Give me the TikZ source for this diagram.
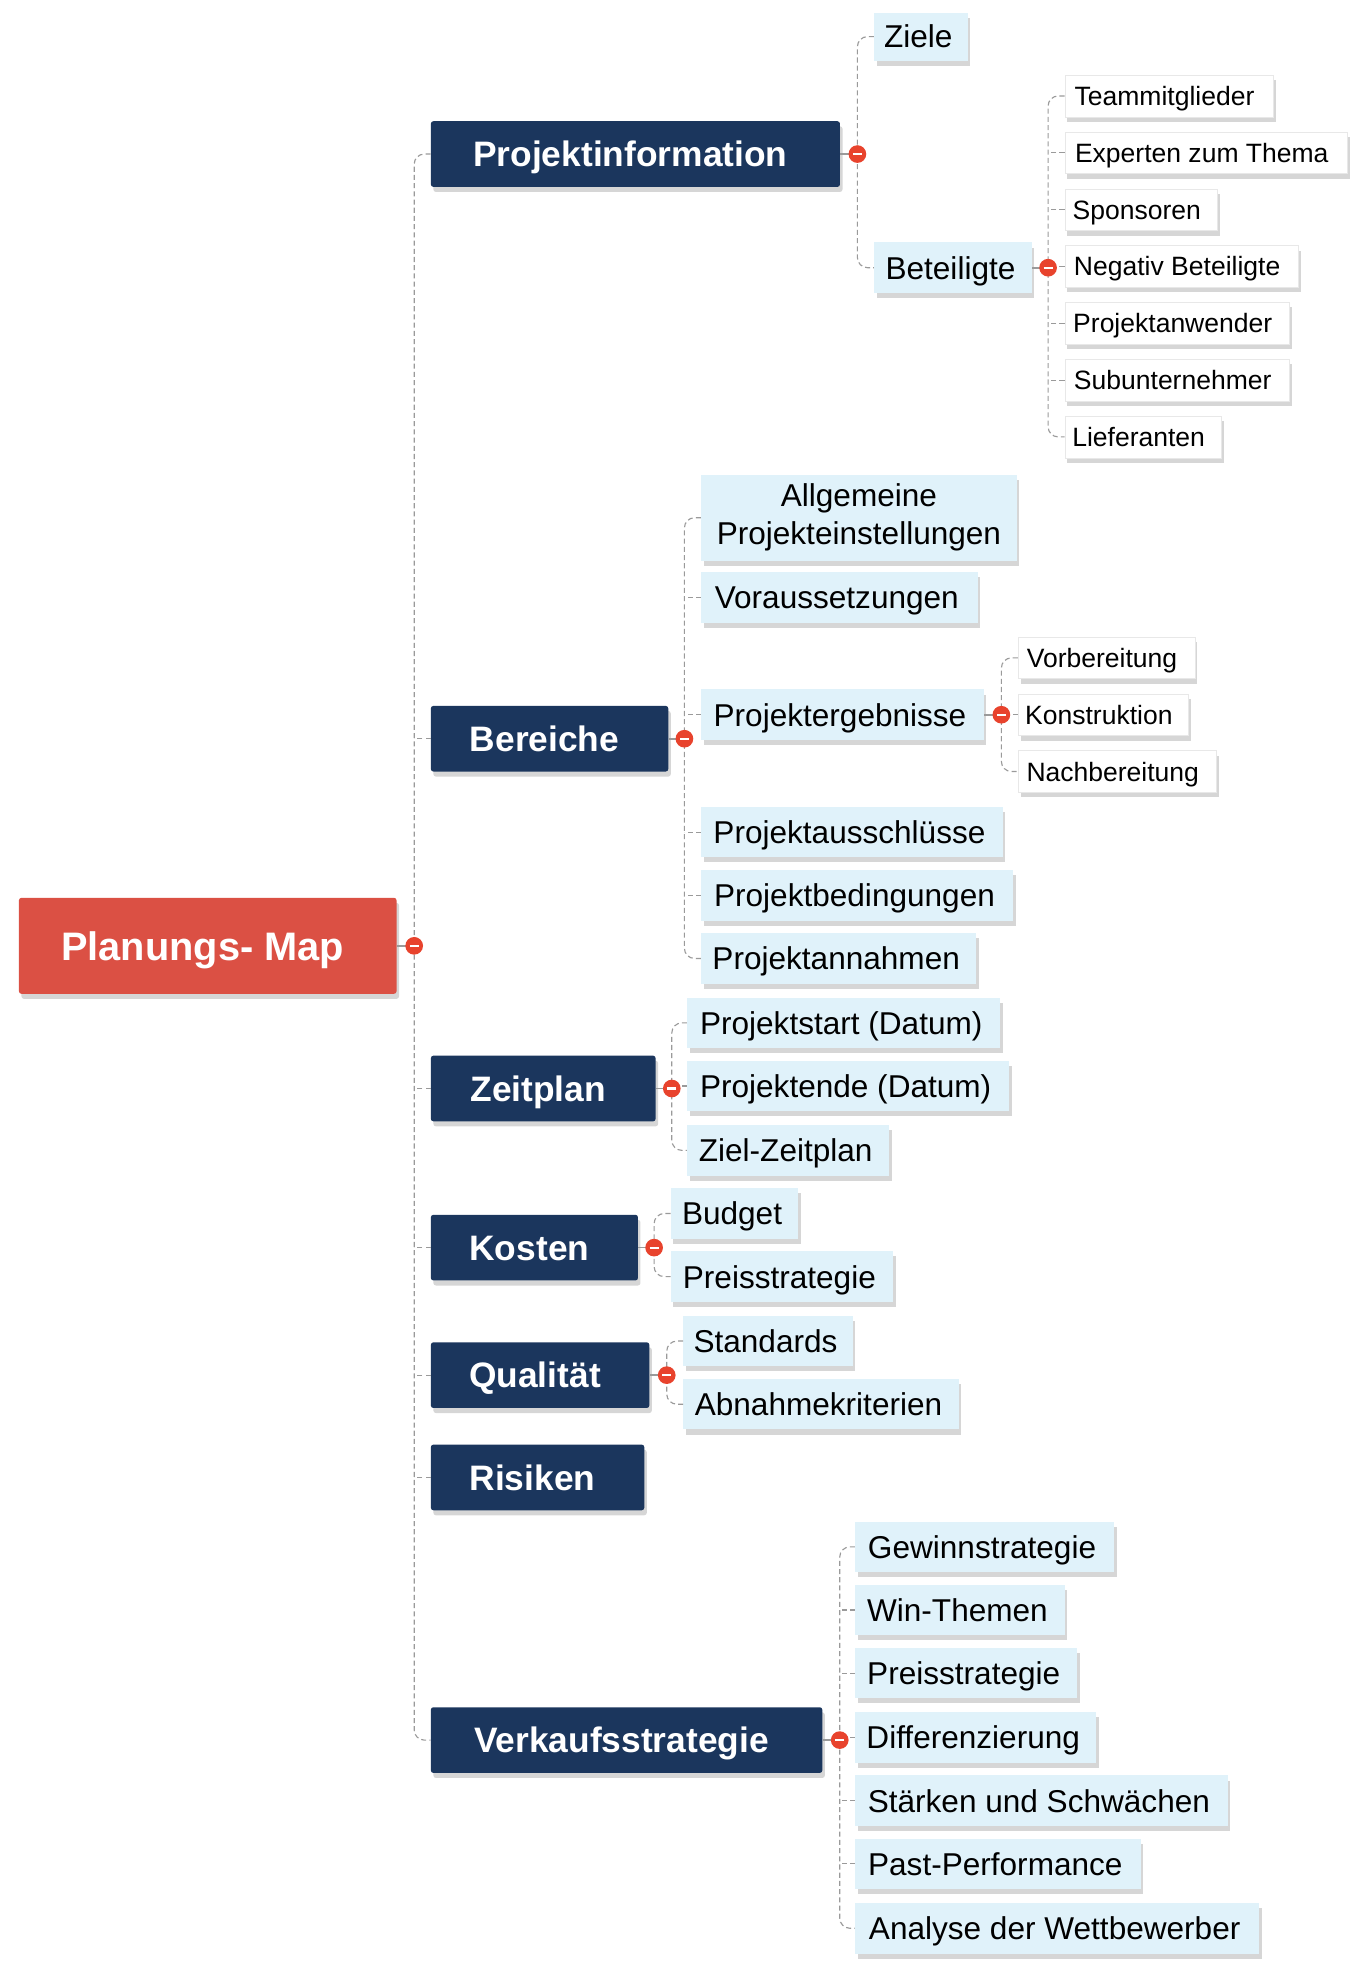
\documentclass[tikz,border=0pt]{standalone}
\usepackage{fontspec}
\setmainfont{Liberation Sans}
\usetikzlibrary{shadows,calc}
\definecolor{navy}{HTML}{1B365D}
\definecolor{rootred}{HTML}{DB5044}
\definecolor{lblue}{HTML}{E0F2FA}
\definecolor{dotred}{HTML}{E8432D}
\definecolor{conngray}{HTML}{9A9A9A}
\begin{document}
\begin{tikzpicture}[x=1pt,y=-1pt,
  shd/.style={drop shadow={shadow xshift=2pt, shadow yshift=-4pt, opacity=0.16, fill=black}},
  rootn/.style={fill=rootred, text=white, font=\fontsize{31.5}{36}\selectfont\bfseries, rounded corners=2pt, minimum height=76, inner sep=0pt, text height=22.6, text depth=0, shd, execute at end node={\hspace*{8pt}}},
  lone/.style={fill=navy, text=white, font=\fontsize{28}{32}\selectfont\bfseries, rounded corners=2pt, minimum height=52, inner sep=0pt, text height=20, text depth=0, shd, anchor=west, execute at end node={\hspace*{8pt}}},
  ltwobase/.style={fill=lblue, text=black, font=\fontsize{25}{30}\selectfont, minimum height=40, inner sep=0pt, shd, anchor=west},
  ltwo/.style={ltwobase, text height=18, text depth=0, execute at end node={\hspace*{4pt}}},
  lthree/.style={fill=white, draw=black!9, font=\fontsize{21}{25}\selectfont, minimum height=33, inner sep=0pt, text height=15, text depth=0, shd, anchor=west, execute at end node={\hspace*{7pt}}},
  conn/.style={draw=conngray, line width=0.9pt, dash pattern=on 4pt off 2.5pt},
  link/.style={draw=conngray, line width=1.3pt},
  dotn/.style={circle, fill=dotred, minimum size=14, inner sep=0pt,
    path picture={\draw[white, line width=1.6pt] ($(path picture bounding box.center)+(-3.5,0)$) -- ($(path picture bounding box.center)+(3.5,0)$);}},
]
\useasboundingbox (0,0) rectangle (1082,1568);

% dot positions
\coordinate (rd) at (328,749);
\coordinate (pid) at (679,122);
\coordinate (bed) at (830,212);
\coordinate (brd) at (542,585);
\coordinate (ped) at (793,566);
\coordinate (zd) at (532,862);
\coordinate (kd) at (518,988);
\coordinate (qd) at (528,1089);
\coordinate (vd) at (665,1378);

% root
\node[rootn, minimum width=299] (root) at (164.5,749) {Planungs- Map};

% level 1
\node[lone, minimum width=324] (pi) at (341,122) {Projektinformation};
\node[lone, minimum width=188] (br) at (341,585) {Bereiche};
\node[lone, minimum width=178] (zp) at (341,862) {Zeitplan};
\node[lone, minimum width=164] (ko) at (341,988) {Kosten};
\node[lone, minimum width=173] (qu) at (341,1089) {Qualität};
\node[lone, minimum width=169] (ri) at (341,1170) {Risiken};
\node[lone, minimum width=310] (vk) at (341,1378) {Verkaufsstrategie};

% Projektinformation
\node[ltwo, minimum width=74, minimum height=38] (zi) at (692,29) {Ziele};
\node[ltwo, minimum width=125] (bt) at (692,212) {Beteiligte};

% Beteiligte
\node[lthree, minimum width=165] (b1) at (843,76) {Teammitglieder};
\node[lthree, minimum width=224] (b2) at (843,121) {Experten zum Thema};
\node[lthree, minimum width=121] (b3) at (843,166) {Sponsoren};
\node[lthree, minimum width=185] (b4) at (843,211) {Negativ Beteiligte};
\node[lthree, minimum width=178] (b5) at (843,256) {Projektanwender};
\node[lthree, minimum width=178] (b6) at (843,301) {Subunternehmer};
\node[lthree, minimum width=124] (b7) at (843,346) {Lieferanten};

% Bereiche
\node[ltwobase, align=center, minimum width=250, minimum height=68] (al) at (555,410) {Allgemeine\\Projekteinstellungen};
\node[ltwo, minimum width=219] (vo) at (555,473) {Voraussetzungen};
\node[ltwo, minimum width=224] (pe) at (555,566) {Projektergebnisse};
\node[ltwo, minimum width=239] (pa) at (555,659) {Projektausschlüsse};
\node[ltwo, minimum width=247] (pb) at (555,709) {Projektbedingungen};
\node[ltwo, minimum width=218] (pn) at (555,759) {Projektannahmen};

% Projektergebnisse
\node[lthree, minimum width=140] (e1) at (806,521) {Vorbereitung};
\node[lthree, minimum width=135] (e2) at (806,566) {Konstruktion};
\node[lthree, minimum width=157] (e3) at (806,611) {Nachbereitung};

% Zeitplan
\node[ltwo, minimum width=248] (z1) at (544,810) {Projektstart (Datum)};
\node[ltwo, minimum width=255] (z2) at (544,860) {Projektende (Datum)};
\node[ltwo, minimum width=160] (z3) at (544,911) {Ziel-Zeitplan};

% Kosten
\node[ltwo, minimum width=101] (k1) at (531,961) {Budget};
\node[ltwo, minimum width=176] (k2) at (531,1011) {Preisstrategie};

% Qualitaet
\node[ltwo, minimum width=134] (q1) at (541,1062) {Standards};
\node[ltwo, minimum width=218] (q2) at (541,1112) {Abnahmekriterien};

% Verkaufsstrategie
\node[ltwo, minimum width=205] (v1) at (677,1225) {Gewinnstrategie};
\node[ltwo, minimum width=166] (v2) at (677,1275) {Win-Themen};
\node[ltwo, minimum width=176] (v3) at (677,1325) {Preisstrategie};
\node[ltwo, minimum width=191] (v4) at (677,1376) {Differenzierung};
\node[ltwo, minimum width=295] (v5) at (677,1426) {Stärken und Schwächen};
\node[ltwo, minimum width=226] (v6) at (677,1476) {Past-Performance};
\node[ltwo, minimum width=320] (v7) at (677,1527) {Analyse der Wettbewerber};

% connectors: root
\draw[link] (root.east) -- (rd);
\draw[conn, rounded corners=8] (pi.west) -| (rd) |- (vk.west);
\foreach \n in {br,zp,ko,qu,ri} \draw[conn] (\n.west) -- (\n.west -| rd);

% Projektinformation
\draw[link] (pi.east) -- (pid);
\draw[conn, rounded corners=8] (zi.west) -| (pid) |- (bt.west);

% Beteiligte
\draw[link] (bt.east) -- (bed);
\draw[conn, rounded corners=8] (b1.west) -| (bed) |- (b7.west);
\foreach \n in {b2,b3,b4,b5,b6} \draw[conn] (\n.west) -- (\n.west -| bed);

% Bereiche
\draw[link] (br.east) -- (brd);
\draw[conn, rounded corners=8] (al.west) -| (brd) |- (pn.west);
\foreach \n in {vo,pe,pa,pb} \draw[conn] (\n.west) -- (\n.west -| brd);

% Projektergebnisse
\draw[link] (pe.east) -- (ped);
\draw[conn, rounded corners=8] (e1.west) -| (ped) |- (e3.west);
\draw[conn] (e2.west) -- (e2.west -| ped);

% Zeitplan
\draw[link] (zp.east) -- (zd);
\draw[conn, rounded corners=8] (z1.west) -| (zd) |- (z3.west);
\draw[conn] (z2.west) -- (z2.west -| zd);

% Kosten
\draw[link] (ko.east) -- (kd);
\draw[conn, rounded corners=8] (k1.west) -| (kd) |- (k2.west);

% Qualitaet
\draw[link] (qu.east) -- (qd);
\draw[conn, rounded corners=8] (q1.west) -| (qd) |- (q2.west);

% Verkaufsstrategie
\draw[link] (vk.east) -- (vd);
\draw[conn, rounded corners=8] (v1.west) -| (vd) |- (v7.west);
\foreach \n in {v2,v3,v4,v5,v6} \draw[conn] (\n.west) -- (\n.west -| vd);

% dots
\node[dotn] (rdn) at (rd) {};
\node[dotn] (pidn) at (pid) {};
\node[dotn] (bedn) at (bed) {};
\node[dotn] (brdn) at (brd) {};
\node[dotn] (pedn) at (ped) {};
\node[dotn] (zdn) at (zd) {};
\node[dotn] (kdn) at (kd) {};
\node[dotn] (qdn) at (qd) {};
\node[dotn] (vdn) at (vd) {};
\end{tikzpicture}
\end{document}
